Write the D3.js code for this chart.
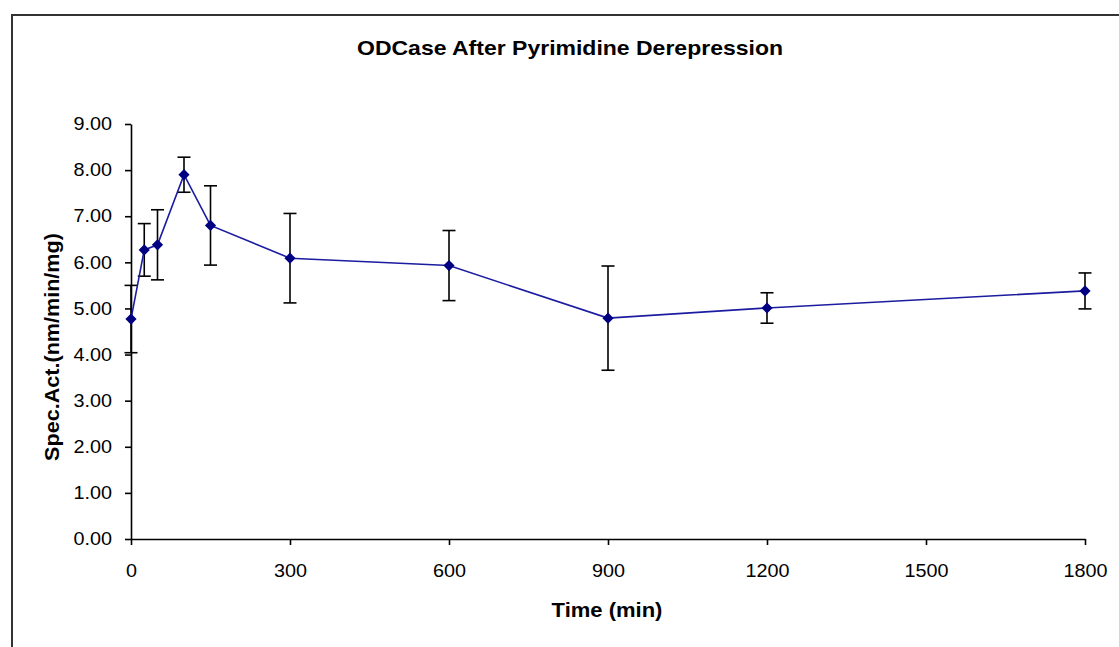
<!DOCTYPE html>
<html>
<head>
<meta charset="utf-8">
<script src="https://cdn.jsdelivr.net/npm/d3@7"></script>
<style>
  html, body { margin: 0; padding: 0; background: #fff; }
  svg { display: block; font-family: "Liberation Sans", Arial, sans-serif; }
</style>
</head>
<body>
<svg id="chart" width="1119" height="647"></svg>
<script>
// Sampling times (min) after derepression
const times = [0, 25, 50, 100, 150, 300, 600, 900, 1200, 1800];
// Mean specific activity (nm/min/mg)
const activity = [4.77, 6.27, 6.38, 7.90, 6.80, 6.09, 5.93, 4.79, 5.01, 5.38];
// Error bar half-widths
const errors = [0.73, 0.57, 0.76, 0.38, 0.86, 0.97, 0.76, 1.13, 0.33, 0.39];

const xTicks = [0, 300, 600, 900, 1200, 1500, 1800];
const yTicks = [0, 1, 2, 3, 4, 5, 6, 7, 8, 9];

const titleText = "ODCase After Pyrimidine Derepression";
const xTitle = "Time (min)";
const yTitle = "Spec.Act.(nm/min/mg)";

const points = times.map((t, i) => ({ t, v: activity[i], e: errors[i] }));

const svg = d3.select("#chart");

// Widen glyphs horizontally while keeping the anchor point in place
function widen(sel, sx) {
  sel.each(function () {
    const t = d3.select(this);
    const x0 = +t.attr("x") || 0;
    t.attr("x", x0 / sx).style("transform", `scale(${sx},1)`);
  });
}

// Outer chart frame
svg.append("rect")
  .attr("x", 12).attr("y", 15)
  .attr("width", 1140).attr("height", 660)
  .attr("fill", "none")
  .attr("stroke", "#333").attr("stroke-width", 2);

const x = d3.scaleLinear().domain([0, 1800]).range([131, 1085]);
const y = d3.scaleLinear().domain([0, 9]).range([539, 124]);

// Axes
const xAxis = svg.append("g")
  .attr("transform", `translate(0,${y(0)})`)
  .call(d3.axisBottom(x).tickValues(xTicks).tickFormat(d3.format("d")).tickSizeOuter(0).tickSizeInner(6).tickPadding(19));
const yAxis = svg.append("g")
  .attr("transform", `translate(${x(0)},0)`)
  .call(d3.axisLeft(y).tickValues(yTicks).tickFormat(d3.format(".2f")).tickSizeOuter(0).tickSizeInner(6).tickPadding(13));

[xAxis, yAxis].forEach(g => {
  g.select(".domain").attr("stroke", "#000").attr("stroke-width", 1.6);
  g.selectAll(".tick line").attr("stroke", "#000").attr("stroke-width", 1.6);
  g.selectAll(".tick text")
    .attr("fill", "#000")
    .style("font-size", "18px");
});
widen(xAxis.selectAll(".tick text"), 1.1);
widen(yAxis.selectAll(".tick text"), 1.1);

// Error bars
const capHalf = 6.5;
const eb = svg.append("g").attr("stroke", "#000").attr("stroke-width", 1.6);
points.forEach(p => {
  const cx = x(p.t), yTop = y(p.v + p.e), yBot = y(p.v - p.e);
  eb.append("line").attr("x1", cx).attr("x2", cx).attr("y1", yTop).attr("y2", yBot);
  eb.append("line").attr("x1", cx - capHalf).attr("x2", cx + capHalf).attr("y1", yTop).attr("y2", yTop);
  eb.append("line").attr("x1", cx - capHalf).attr("x2", cx + capHalf).attr("y1", yBot).attr("y2", yBot);
});

// Series line
svg.append("path")
  .datum(points)
  .attr("fill", "none")
  .attr("stroke", "#1c1ca0")
  .attr("stroke-width", 1.6)
  .attr("d", d3.line().x(d => x(d.t)).y(d => y(d.v)));

// Diamond markers
svg.append("g").selectAll("path")
  .data(points)
  .join("path")
  .attr("transform", d => `translate(${x(d.t)},${y(d.v)})`)
  .attr("d", d3.symbol(d3.symbolDiamond2, 80))
  .attr("fill", "#000080");

// Titles
const title = svg.append("g").attr("transform", "translate(570,55)");
title.append("text")
  .attr("text-anchor", "middle")
  .style("font-size", "20px").style("font-weight", "bold")
  .text(titleText);
widen(title.selectAll("text"), 1.15);

const xt = svg.append("g").attr("transform", "translate(607,617)");
xt.append("text")
  .attr("text-anchor", "middle")
  .style("font-size", "20px").style("font-weight", "bold")
  .text(xTitle);
widen(xt.selectAll("text"), 1.1);

const yt = svg.append("g").attr("transform", "translate(59,347) rotate(-90)");
yt.append("text")
  .attr("text-anchor", "middle")
  .style("font-size", "20px").style("font-weight", "bold")
  .text(yTitle);
widen(yt.selectAll("text"), 1.08);
</script>
</body>
</html>
